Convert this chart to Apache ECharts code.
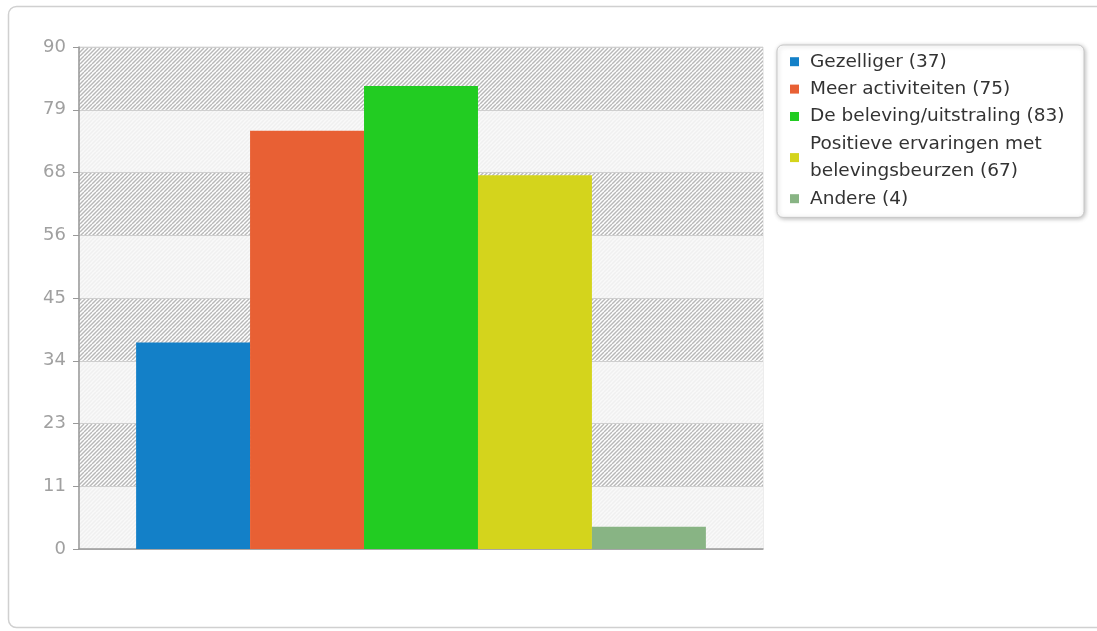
<!DOCTYPE html>
<html>
<head>
<meta charset="utf-8">
<script src="https://cdn.jsdelivr.net/npm/echarts@6/dist/echarts.min.js"></script>
<style>
html,body{margin:0;padding:0;background:#fff;}
#chart{width:1097px;height:631px;}
</style>
</head>
<body>
<div id="chart"></div>
<script>
const categories = ['Gezelliger', 'Meer activiteiten', 'De beleving/uitstraling', 'Positieve ervaringen met belevingsbeurzen', 'Andere'];
const values = [37, 75, 83, 67, 4];
const barColors = ['#1380c8', '#e86034', '#22cc22', '#d4d41c', '#88b484'];
const yTickLabels = ['0', '11', '23', '34', '45', '56', '68', '79', '90'];
const yMax = 90;
const yInterval = 11.25;

function makePattern(bg, line, lw) {
  const c = document.createElement('canvas');
  c.width = 8; c.height = 8;
  const g = c.getContext('2d');
  g.fillStyle = bg; g.fillRect(0, 0, 8, 8);
  g.strokeStyle = line; g.lineWidth = lw;
  for (let k = -8; k <= 16; k += 4) {
    g.beginPath(); g.moveTo(k, 8); g.lineTo(k + 8, 0); g.stroke();
  }
  return { image: c, repeat: 'repeat' };
}
const hatch = makePattern('#ffffff', '#b8b8b8', 1.4);
const light = makePattern('#f9f9f9', '#f0f0f0', 1.4);

const chart = echarts.init(document.getElementById('chart'));
chart.setOption({
  animation: false,
  backgroundColor: '#fff',
  textStyle: { fontFamily: 'DejaVu Sans' },
  graphic: [{
    type: 'rect', z: -10,
    shape: { x: 8.5, y: 6.5, width: 1120, height: 621, r: 8 },
    style: { fill: '#fff', stroke: '#d0d0d0', lineWidth: 1.5 }
  }],
  grid: { left: 79, top: 47, right: 334, bottom: 82, show: true, borderColor: '#dcdcdc', borderWidth: 1, backgroundColor: 'transparent' },
  legend: {
    orient: 'vertical', left: 777, top: 45,
    padding: [3, 16, 5, 13],
    itemGap: 0, itemWidth: 9, itemHeight: 9, icon: 'rect',
    backgroundColor: '#fff', borderColor: '#c8c8c8', borderWidth: 1, borderRadius: 6,
    shadowBlur: 4, shadowColor: 'rgba(0,0,0,0.25)', shadowOffsetX: 1, shadowOffsetY: 1,
    textStyle: { fontSize: 18.5, color: '#333', lineHeight: 27.4, width: 258, overflow: 'break', fontFamily: 'DejaVu Sans', padding: [0, 0, 0, 6] },
    formatter: name => name + ' (' + values[categories.indexOf(name)] + ')',
    data: categories
  },
  xAxis: {
    type: 'category', data: [''],
    axisLine: { show: true, lineStyle: { color: '#999', width: 1.5 } },
    axisTick: { show: false }, axisLabel: { show: false }
  },
  yAxis: {
    type: 'value', min: 0, max: yMax, interval: yInterval,
    axisLine: { show: true, lineStyle: { color: '#999', width: 1.5 } },
    axisTick: { show: true, length: 6, lineStyle: { color: '#999' } },
    axisLabel: { color: '#a0a0a0', fontSize: 18, margin: 13, fontFamily: 'DejaVu Sans',
      formatter: v => yTickLabels[Math.round(v / yInterval)] },
    splitLine: { show: true, lineStyle: { color: '#cfcfcf', width: 1 } },
    splitArea: { show: true, areaStyle: { color: [light, hatch] } }
  },
  series: categories.map((name, i) => ({
    type: 'bar', name: name, data: [values[i]],
    barGap: '0%', barCategoryGap: '16.7%',
    itemStyle: { color: barColors[i] }
  }))
});
</script>
</body>
</html>
